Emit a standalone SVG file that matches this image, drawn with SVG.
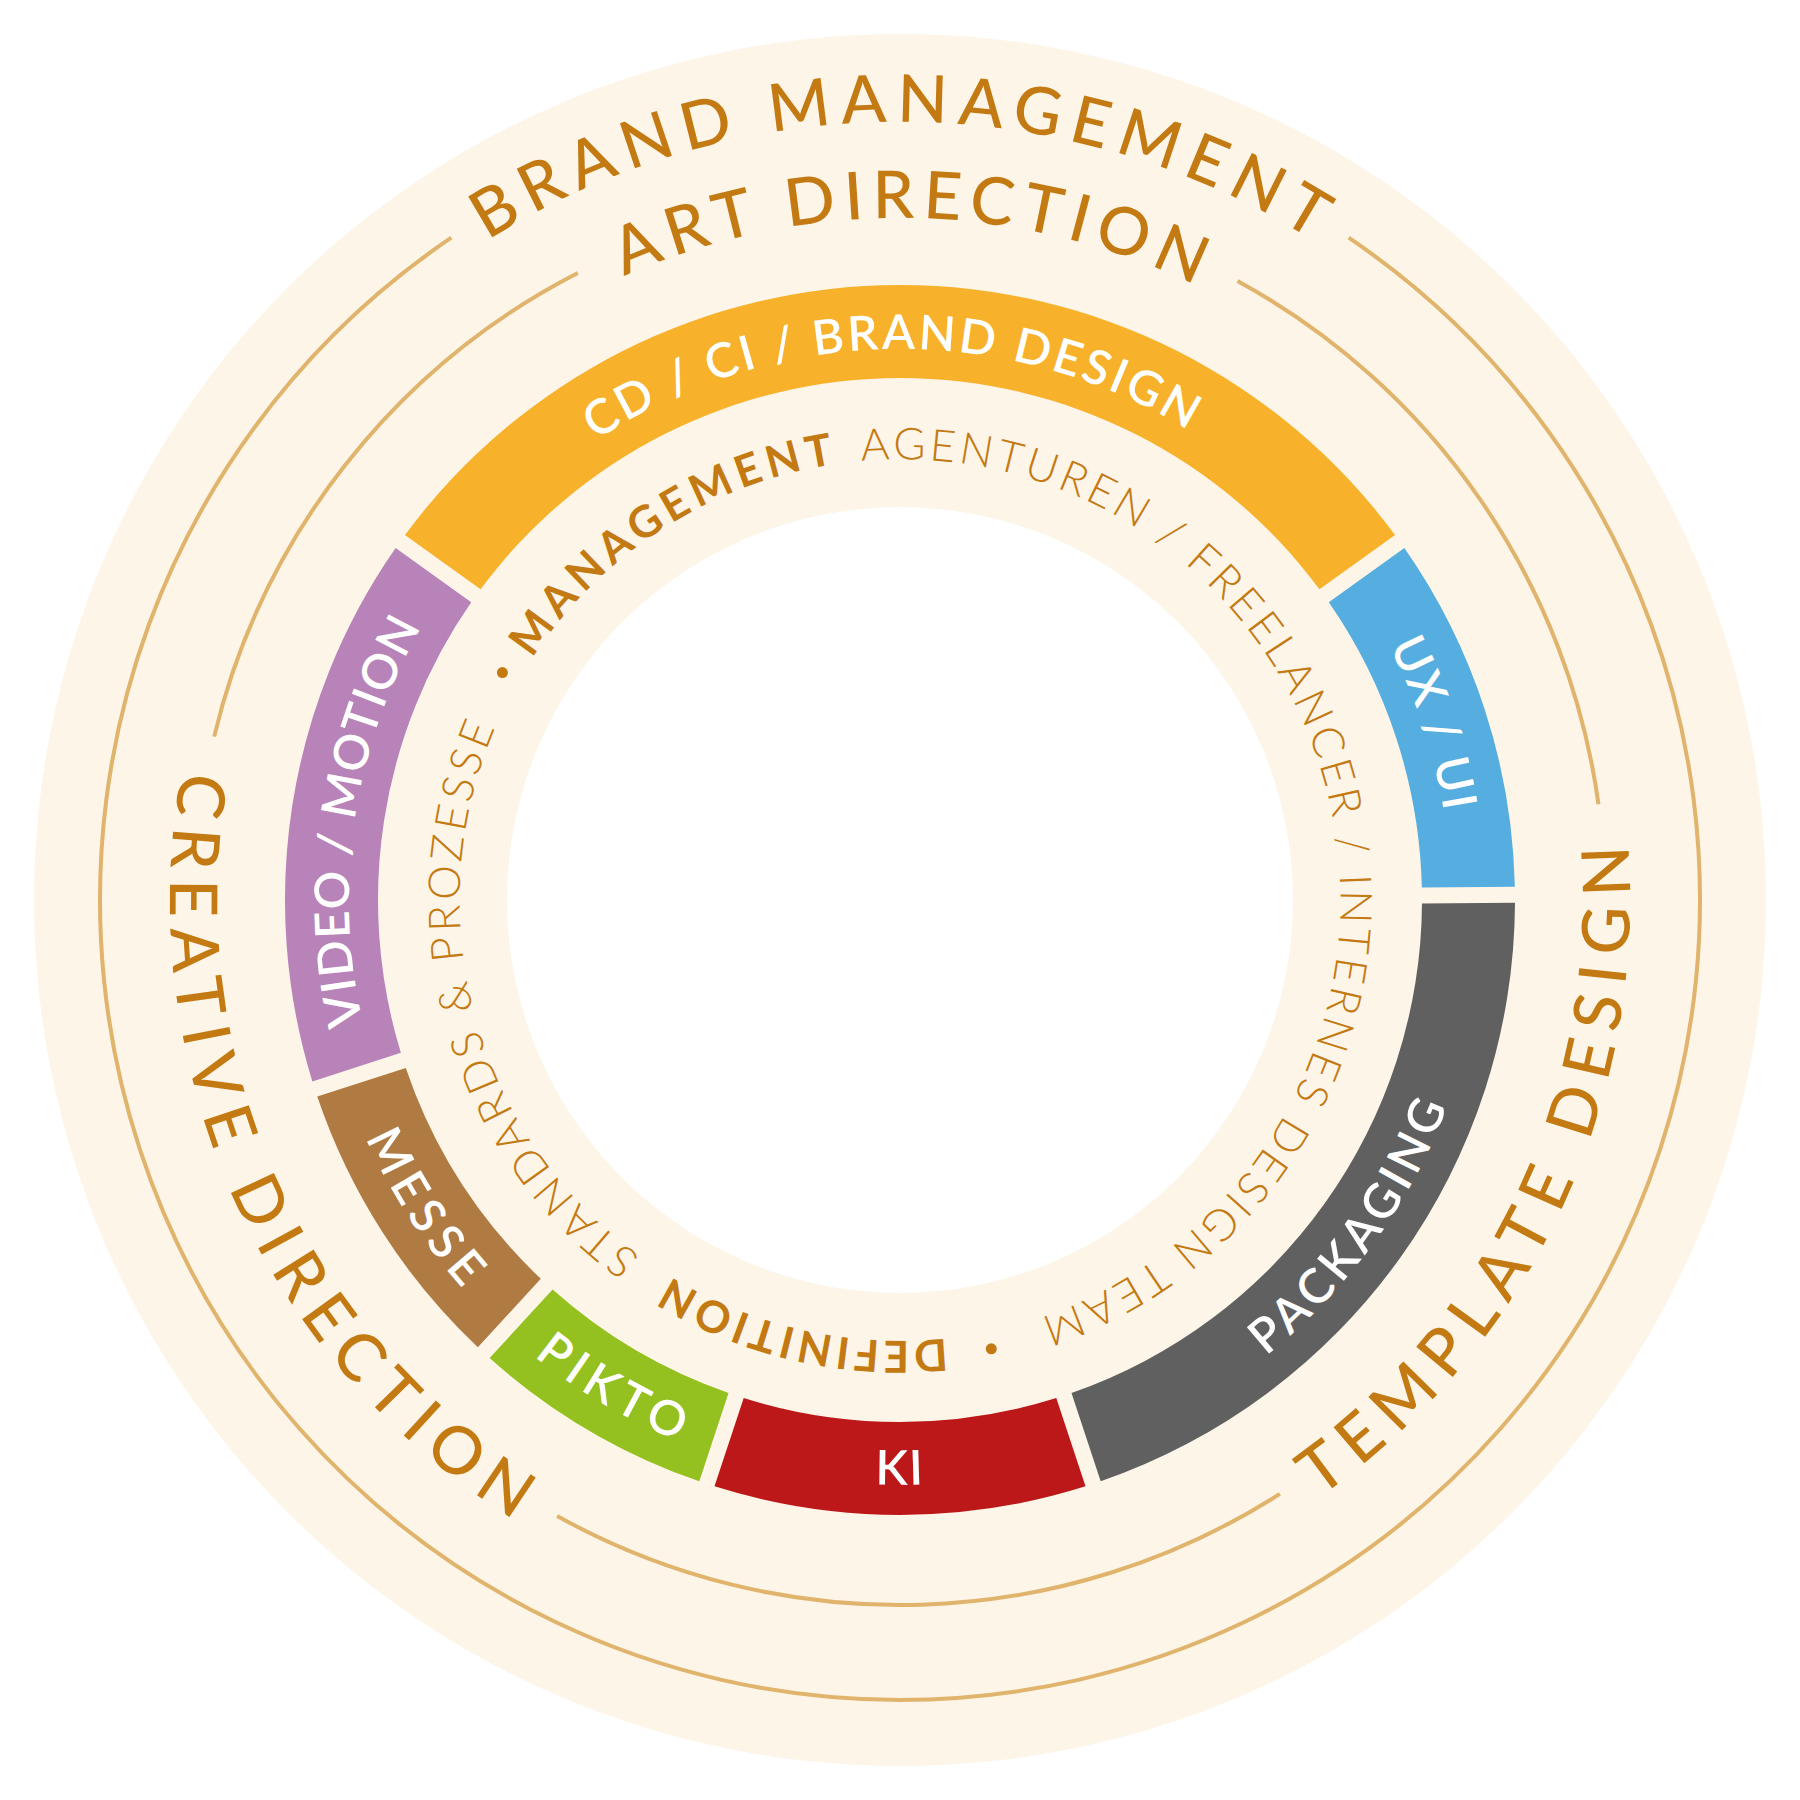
<svg xmlns="http://www.w3.org/2000/svg" xmlns:xlink="http://www.w3.org/1999/xlink" width="1800" height="1800" viewBox="0 0 1800 1800">
<style>
.t{font-family:Lato,"Open Sans","DejaVu Sans",sans-serif;fill:#C47A12;}
.outer{font-size:66px;font-weight:500;}
.ring{font-family:Lato,"Open Sans","DejaVu Sans",sans-serif;fill:#fff;font-size:48px;font-weight:600;}
.inner{font-size:44px;}
.b{font-weight:700;}
.l{font-weight:300;}
.arc{fill:none;stroke:#E0B46C;stroke-width:4;}
</style>
<defs>
<path id="pBrand" d="M122,900 A778,778 0 0 1 1678,900"/>
<path id="pArt" d="M218,900 A682,682 0 0 1 1582,900"/>
<path id="pLeft" d="M900,170 A730,730 0 0 0 900,1630"/>
<path id="pRight" d="M900,1630 A730,730 0 0 0 900,170"/>
<path id="pRingTop" d="M349,900 A551,551 0 0 1 1451,900"/>
<path id="pRingRight" d="M900,349 A551,551 0 0 1 900,1451"/>
<path id="pRingLeft" d="M900,1451 A551,551 0 0 1 900,349"/>
<path id="pRingBottom" d="M315,900 A585,585 0 0 0 1485,900"/>
<path id="pInner" d="M504.53,707.12 A440,440 0 1 1 1295.47,1092.88 A440,440 0 1 1 504.53,707.12"/>
</defs>
<rect width="1800" height="1800" fill="#fff"/>
<g id="background">
<circle cx="900" cy="900" r="866" fill="#FDF5E7"/>
<circle cx="900" cy="900" r="393" fill="#fff"/>
</g>
<g id="connectors">
<path class="arc" d="M1348.70,237.68 A800,800 0 1 1 451.30,237.68"/>
<path class="arc" d="M214.19,736.62 A705,705 0 0 1 577.79,272.96"/>
<path class="arc" d="M1237.48,281.02 A705,705 0 0 1 1598.48,804.32"/>
<path class="arc" d="M1279.83,1493.93 A705,705 0 0 1 557.13,1516.01"/>
</g>
<g id="outer-labels">
<text id="brand-management" class="t outer"><textPath xlink:href="#pBrand" href="#pBrand" startOffset="50%" text-anchor="middle" textLength="870" lengthAdjust="spacing">BRAND MANAGEMENT</textPath></text>
<text id="art-direction" class="t outer"><textPath xlink:href="#pArt" href="#pArt" startOffset="50.5%" text-anchor="middle" textLength="590" lengthAdjust="spacing">ART DIRECTION</textPath></text>
<text id="creative-direction" class="t outer"><textPath xlink:href="#pLeft" href="#pLeft" startOffset="1452" text-anchor="middle" textLength="870" lengthAdjust="spacing">CREATIVE DIRECTION</textPath></text>
<text id="template-design" class="t outer"><textPath xlink:href="#pRight" href="#pRight" startOffset="824" text-anchor="middle" textLength="755" lengthAdjust="spacing">TEMPLATE DESIGN</textPath></text>
</g>
<g id="node-cd-ci">
<path fill="#F8B12A" d="M404.96,535.09 A615,615 0 0 1 1395.04,535.09 L1319.46,589.30 A522,522 0 0 0 480.54,589.30 Z"/>
<text class="ring"><textPath xlink:href="#pRingTop" href="#pRingTop" startOffset="856" text-anchor="middle" textLength="625" lengthAdjust="spacing">CD / CI / BRAND DESIGN</textPath></text>
</g>
<g id="node-ux-ui">
<path fill="#55ADE0" d="M1404.36,548.08 A615,615 0 0 1 1514.85,886.64 L1421.85,887.45 A522,522 0 0 0 1328.79,602.29 Z"/>
<text class="ring"><textPath xlink:href="#pRingRight" href="#pRingRight" startOffset="689" text-anchor="middle" textLength="175" lengthAdjust="spacing">UX / UI</textPath></text>
</g>
<g id="node-packaging">
<path fill="#606060" d="M1514.99,902.63 A615,615 0 0 1 1100.68,1481.33 L1071.48,1393.03 A522,522 0 0 0 1421.99,903.44 Z"/>
<text class="ring"><textPath xlink:href="#pRingBottom" href="#pRingBottom" startOffset="1470" text-anchor="middle" textLength="312" lengthAdjust="spacing">PACKAGING</textPath></text>
</g>
<g id="node-ki">
<path fill="#BC1819" d="M1085.50,1486.36 A615,615 0 0 1 714.50,1486.36 L743.71,1398.06 A522,522 0 0 0 1056.29,1398.06 Z"/>
<text class="ring"><textPath xlink:href="#pRingBottom" href="#pRingBottom" startOffset="919" text-anchor="middle" letter-spacing="2">KI</textPath></text>
</g>
<g id="node-pikto">
<path fill="#94C11F" d="M699.32,1481.33 A615,615 0 0 1 489.64,1358.07 L552.60,1289.61 A522,522 0 0 0 728.52,1393.03 Z"/>
<text class="ring"><textPath xlink:href="#pRingBottom" href="#pRingBottom" startOffset="607" text-anchor="middle" textLength="168" lengthAdjust="spacing">PIKTO</textPath></text>
</g>
<g id="node-messe">
<path fill="#B07B42" d="M477.87,1347.25 A615,615 0 0 1 317.28,1096.62 L405.78,1068.03 A522,522 0 0 0 540.82,1278.78 Z"/>
<text class="ring"><textPath xlink:href="#pRingBottom" href="#pRingBottom" startOffset="335" text-anchor="middle" textLength="180" lengthAdjust="spacing">MESSE</textPath></text>
</g>
<g id="node-video-motion">
<path fill="#B783B8" d="M312.36,1081.40 A615,615 0 0 1 395.64,548.08 L471.21,602.29 A522,522 0 0 0 400.87,1052.81 Z"/>
<text class="ring"><textPath xlink:href="#pRingLeft" href="#pRingLeft" startOffset="946" text-anchor="middle" textLength="410" lengthAdjust="spacing">VIDEO / MOTION</textPath></text>
</g>
<g id="inner-ring">
<text class="t inner b"><textPath xlink:href="#pInner" href="#pInner" startOffset="241" text-anchor="middle" textLength="370" lengthAdjust="spacing">MANAGEMENT</textPath></text>
<text class="t inner l"><textPath xlink:href="#pInner" href="#pInner" startOffset="1093" text-anchor="middle" textLength="1280" lengthAdjust="spacing">AGENTUREN / FREELANCER / INTERNES DESIGN TEAM</textPath></text>
<text class="t inner b"><textPath xlink:href="#pInner" href="#pInner" startOffset="1973" text-anchor="middle" textLength="288" lengthAdjust="spacing">DEFINITION</textPath></text>
<text class="t inner l"><textPath xlink:href="#pInner" href="#pInner" startOffset="2449" text-anchor="middle" textLength="592" lengthAdjust="spacing">STANDARDS &amp; PROZESSE</textPath></text>
<circle cx="502.4" cy="672.6" r="5.5" fill="#C47A12"/>
<circle cx="991.3" cy="1348.8" r="5.5" fill="#C47A12"/>
</g>
</svg>
